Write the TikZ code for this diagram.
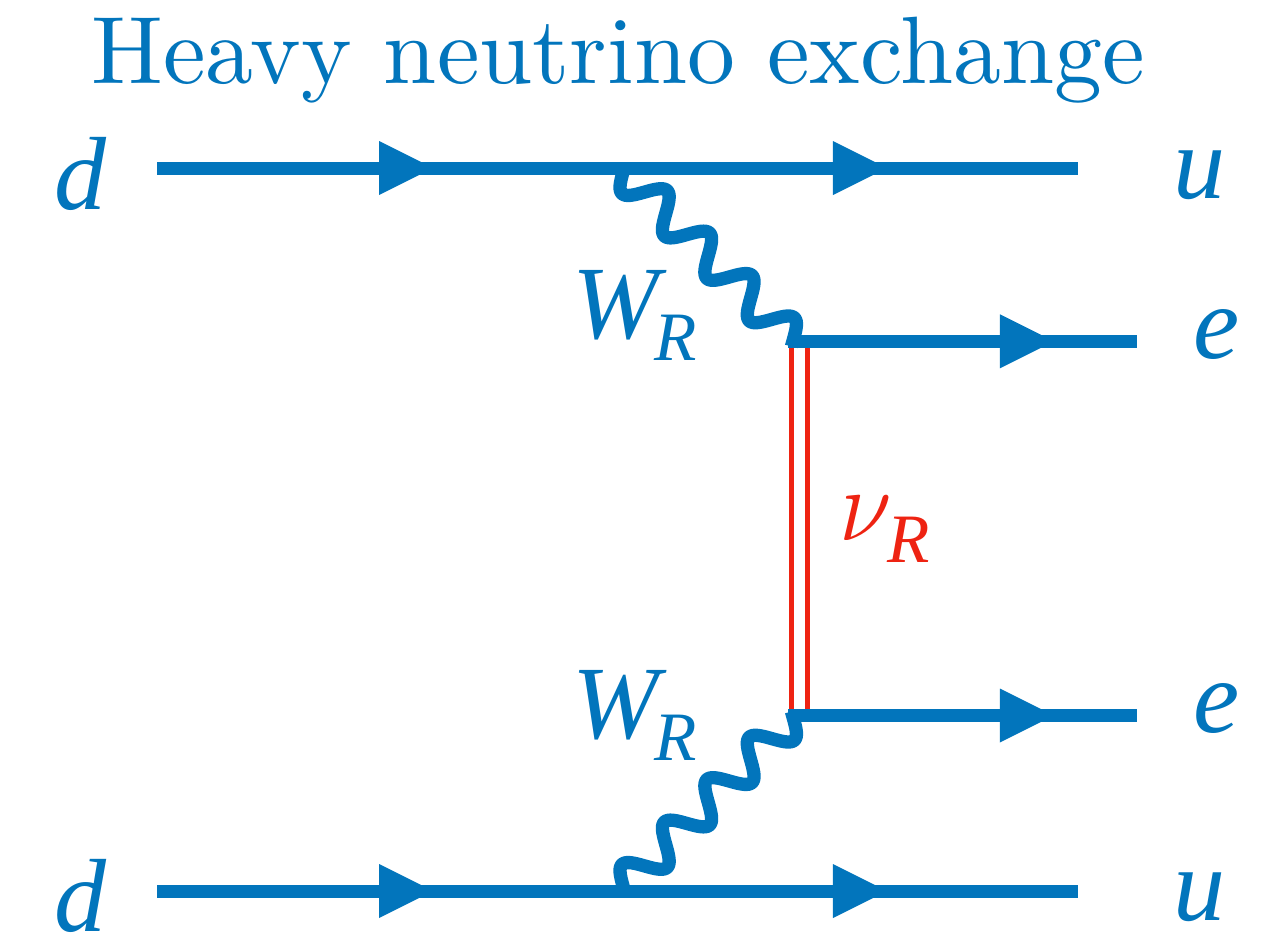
\documentclass[tikz,border=0pt]{standalone}
\usepackage{fontspec}
\newfontfamily\labfont{Liberation Serif}
\usetikzlibrary{decorations.markings}
\definecolor{lineblue}{RGB}{2,117,188}
\definecolor{linered}{RGB}{238,35,18}
\newcommand{\subR}{\raisebox{-17pt}{\fontsize{52}{52}\selectfont R}}
\tikzset{
  x=0.75pt,y=-0.75pt,
  lbl/.style={text=lineblue,inner sep=0pt,anchor=base,font=\labfont\itshape\fontsize{78}{80}\selectfont},
  rlbl/.style={text=linered,inner sep=0pt,anchor=base west,font=\labfont\itshape\fontsize{78}{80}\selectfont},
  ttl/.style={text=lineblue,inner sep=0pt,anchor=base,scale=7.18},
  fermionline/.style={draw=lineblue,line width=9.75pt},
  arrowat/.style={postaction={decorate,decoration={markings,mark=at position #1 with {\fill[lineblue] (0,0)--(-54,27)--(-54,-27)--cycle;}}}},
  photon/.style={draw=lineblue,line width=10pt,line join=round},
  majorana/.style={draw=linered,line width=3.75pt},
}
\begin{document}
\begin{tikzpicture}
\useasboundingbox (0,0) rectangle (1281,939);
\node[ttl] (title) at (618,83.5) {Heavy neutrino exchange};
\coordinate (d1) at (157,168); \coordinate (u1) at (1078,168);
\coordinate (d2) at (157,891); \coordinate (u2) at (1078,891);
\coordinate (v1) at (788,341.3); \coordinate (e1) at (1137,341.3);
\coordinate (v2) at (788,715.5); \coordinate (e2) at (1137,715.5);
\coordinate (r1a) at (791.5,341); \coordinate (r1b) at (791.5,715);
\coordinate (r2a) at (807.5,341); \coordinate (r2b) at (807.5,715);
\node[lbl] (ld1) at (80,209) {d};
\node[lbl] (ld2) at (80,931) {d};
\node[lbl] (lu1) at (1199,198) {u};
\node[lbl] (lu2) at (1199,920) {u};
\node[lbl] (le1) at (1217,358) {e};
\node[lbl] (le2) at (1217,732) {e};
\node[lbl,anchor=base west] (lw1) at (572,338) {W\kern-3pt\subR};
\node[lbl,anchor=base west] (lw2) at (572,738) {W\kern-3pt\subR};
\node[rlbl] (lnu) at (839,540) {\scalebox{2.9}[3.1]{$\nu$}\kern-3pt\subR};
\draw[majorana] (r1a)--(r1b);
\draw[majorana] (r2a)--(r2b);
\draw[fermionline,arrowat=0.2997] (d1)--(u1);
\draw[fermionline,arrowat=0.2997] (d2)--(u2);
\draw[fermionline,arrowat=0.7926] (d1)--(u1);
\draw[fermionline,arrowat=0.7926] (d2)--(u2);
\draw[fermionline,arrowat=0.762] (v1)--(e1);
\draw[fermionline,arrowat=0.762] (v2)--(e2);
\draw[photon] plot[domain=-63:183,samples=160,smooth] ({665.8+0.7071*\x-0.7071*17*sin(6*\x)},{213.3+0.7071*\x+0.7071*17*sin(6*\x)});
\draw[photon] plot[domain=-63:183,samples=160,smooth] ({665.8+0.7071*\x-0.7071*17*sin(6*\x)},{844.7-0.7071*\x-0.7071*17*sin(6*\x)});
\end{tikzpicture}
\end{document}
